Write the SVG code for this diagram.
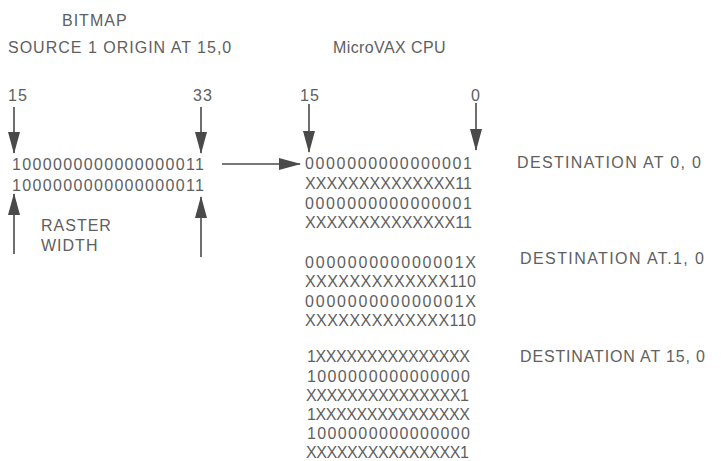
<svg xmlns="http://www.w3.org/2000/svg" width="721" height="461" viewBox="0 0 721 461">
<style>
text{font-family:"Liberation Sans",Arial,sans-serif;font-size:16px;fill:#606060;letter-spacing:1px}
.bits{letter-spacing:0}
.conn line{stroke:#4a4a4a;stroke-width:1.6;marker-end:url(#ah)}
</style>
<defs>
<marker id="ah" viewBox="0 0 22 12" refX="21" refY="6" markerWidth="22" markerHeight="12" orient="auto" markerUnits="userSpaceOnUse">
<path d="M0,0 L22,6 L0,12 z" fill="#4a4a4a"/>
</marker>
</defs>
<rect width="721" height="461" fill="#fff"/>
<g id="titles">
<text x="62" y="26">BITMAP</text>
<text x="8" y="53">SOURCE 1 ORIGIN AT 15,0</text>
<text x="333" y="53" style="letter-spacing:0.4px">MicroVAX CPU</text>
</g>
<g id="source-labels">
<text x="8" y="101">15</text>
<text x="193" y="101">33</text>
<text x="41" y="231">RASTER</text>
<text x="41" y="251">WIDTH</text>
</g>
<g id="source">
<text class="bits" x="12" y="170" textLength="192" lengthAdjust="spacing">1000000000000000011</text>
<text class="bits" x="12" y="191" textLength="192" lengthAdjust="spacing">1000000000000000011</text>
</g>
<g id="cpu-labels">
<text x="300" y="101">15</text>
<text x="471" y="101">0</text>
</g>
<g id="dest-0-0">
<text class="bits" x="305" y="169" textLength="167" lengthAdjust="spacing">0000000000000001</text>
<text class="bits" x="305" y="189" textLength="167" lengthAdjust="spacing">XXXXXXXXXXXXXX11</text>
<text class="bits" x="305" y="209" textLength="167" lengthAdjust="spacing">0000000000000001</text>
<text class="bits" x="305" y="228" textLength="167" lengthAdjust="spacing">XXXXXXXXXXXXXX11</text>
<text x="517" y="168" textLength="185" lengthAdjust="spacing">DESTINATION AT 0, 0</text>
</g>
<g id="dest-1-0">
<text class="bits" x="305" y="268" textLength="171" lengthAdjust="spacing">000000000000001X</text>
<text class="bits" x="305" y="287" textLength="171" lengthAdjust="spacing">XXXXXXXXXXXXX110</text>
<text class="bits" x="305" y="307" textLength="171" lengthAdjust="spacing">000000000000001X</text>
<text class="bits" x="305" y="326" textLength="171" lengthAdjust="spacing">XXXXXXXXXXXXX110</text>
<text x="520" y="264" textLength="185" lengthAdjust="spacing">DESTINATION AT.1, 0</text>
</g>
<g id="dest-15-0">
<text class="bits" x="307" y="362" textLength="163" lengthAdjust="spacing">1XXXXXXXXXXXXXXX</text>
<text class="bits" x="307" y="382" textLength="163" lengthAdjust="spacing">1000000000000000</text>
<text class="bits" x="306" y="401" textLength="163" lengthAdjust="spacing">XXXXXXXXXXXXXXX1</text>
<text class="bits" x="307" y="420" textLength="163" lengthAdjust="spacing">1XXXXXXXXXXXXXXX</text>
<text class="bits" x="307" y="439" textLength="163" lengthAdjust="spacing">1000000000000000</text>
<text class="bits" x="306" y="458" textLength="163" lengthAdjust="spacing">XXXXXXXXXXXXXXX1</text>
<text x="520" y="362" textLength="186" lengthAdjust="spacing">DESTINATION AT 15, 0</text>
</g>
<g id="connectors" class="conn">
<line x1="14" y1="107" x2="14" y2="153"/>
<line x1="201" y1="107" x2="201" y2="153"/>
<line x1="14" y1="254" x2="14" y2="194"/>
<line x1="201" y1="257" x2="201" y2="197"/>
<line x1="222" y1="164" x2="300" y2="164"/>
<line x1="309" y1="104" x2="309" y2="152"/>
<line x1="476" y1="103" x2="476" y2="150"/>
</g>
</svg>
